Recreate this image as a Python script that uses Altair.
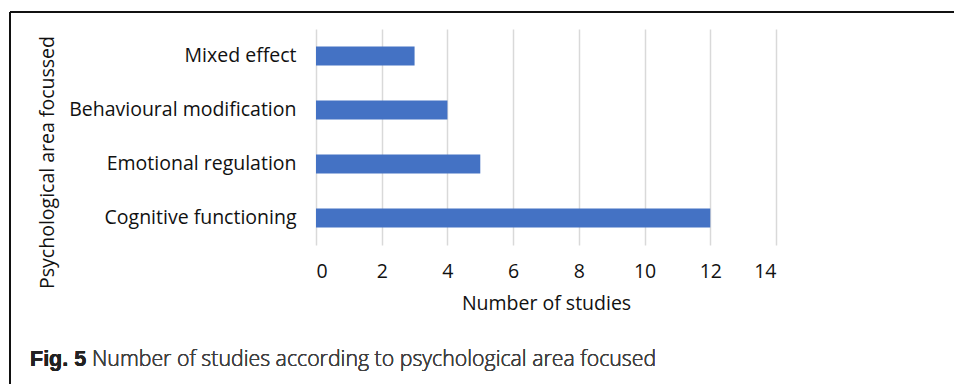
import altair as alt
import pandas as pd

# Studies per psychological area
areas = ["Mixed effect", "Behavioural modification", "Emotional regulation", "Cognitive functioning"]
counts = [3, 4, 5, 12]
x_ticks = [0, 2, 4, 6, 8, 10, 12, 14]

df = pd.DataFrame({"area": areas, "count": counts})

FONT = "Open Sans"
TEXT = "#111111"
FS = 19.5

bars = alt.Chart(df).mark_bar(color="#4472C4").encode(
    x=alt.X(
        "count:Q",
        scale=alt.Scale(domain=[0, 14], nice=False, zero=True),
        axis=alt.Axis(
            values=x_ticks,
            title="Number of studies",
            grid=True,
            gridColor="#d9d9d9",
            gridWidth=1.5,
            domain=False,
            ticks=False,
            labelFont=FONT,
            labelFontSize=FS,
            labelColor=TEXT,
            labelPadding=17,
            titleFont=FONT,
            titleFontSize=FS,
            titleFontWeight="normal",
            titleColor=TEXT,
            titlePadding=14,
        ),
    ),
    y=alt.Y(
        "area:N",
        sort=areas,
        scale=alt.Scale(paddingInner=0.65, paddingOuter=0.325),
        axis=alt.Axis(
            title="Psychological area focussed",
            domain=False,
            ticks=False,
            grid=False,
            labelFont=FONT,
            labelFontSize=FS,
            labelColor=TEXT,
            labelPadding=20,
            labelLimit=400,
            titleFont=FONT,
            titleFontSize=FS,
            titleFontWeight="normal",
            titleColor=TEXT,
            titleX=-269,
            titleY=133,
            titleAngle=-90,
            titleAlign="center",
            titleBaseline="middle",
        ),
    ),
)

# Figure frame: top and left edges
frame_top = alt.Chart(df).mark_rule(color="#111111", strokeWidth=2).encode(
    x=alt.value(-306), x2=alt.value(640), y=alt.value(-17)
)
frame_left = alt.Chart(df).mark_rule(color="#111111", strokeWidth=2).encode(
    x=alt.value(-306), y=alt.value(-17), y2=alt.value(360)
)

# Caption below the chart
cap_bold = alt.Chart(df).mark_text(
    text="Fig. 5", font="Liberation Sans", fontWeight="bold", fontSize=21.5,
    align="left", baseline="alphabetic", color="#222222",
).encode(x=alt.value(-286), y=alt.value(337))
cap_rest = alt.Chart(df).mark_text(
    text="Number of studies according to psychological area focused", font=FONT,
    fontSize=21.3, fontWeight=300, align="left", baseline="alphabetic", color="#404040",
).encode(x=alt.value(-224), y=alt.value(337))

chart = alt.layer(bars, frame_top, frame_left, cap_bold, cap_rest).properties(
    width=460,
    height=216,
    padding={"left": 316, "top": 29, "right": 178, "bottom": 139},
    autosize=alt.AutoSizeParams(type="none"),
    background="white",
).configure_view(stroke=None)

chart.save("out.html", embed_options={"renderer": "svg", "actions": False})
